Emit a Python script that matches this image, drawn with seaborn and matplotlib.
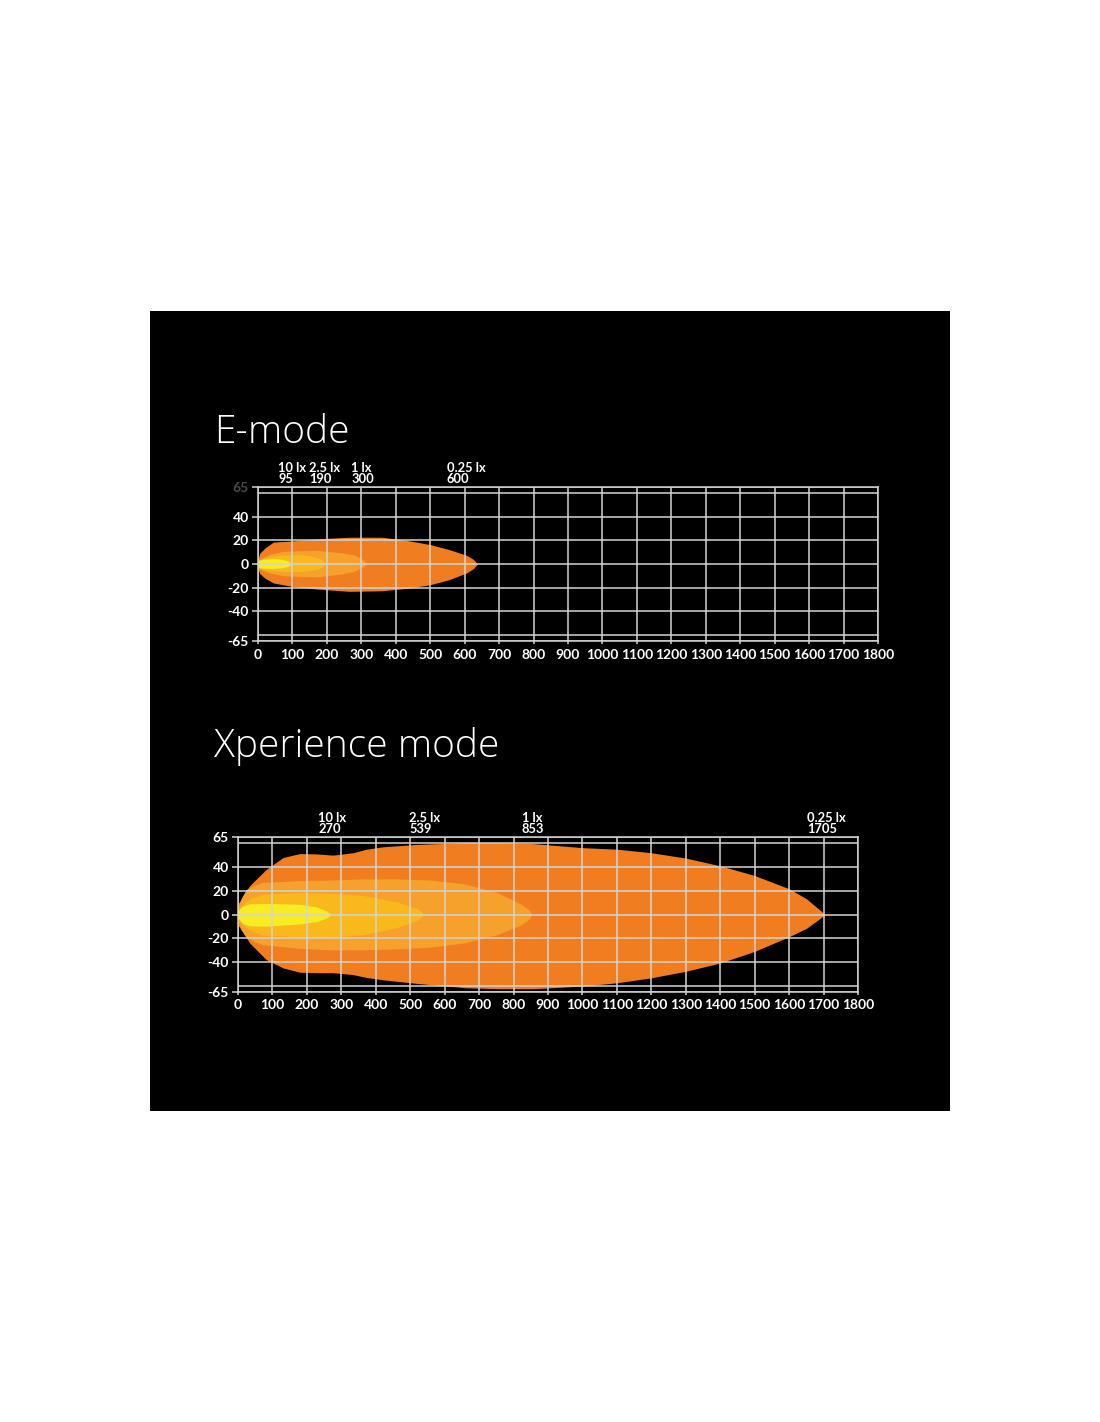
import matplotlib
matplotlib.use("Agg")
import matplotlib.pyplot as plt
import matplotlib.transforms as mtransforms
from matplotlib.patches import Rectangle
import seaborn as sns

# ---- data (distance in m, width in m) ----
x_ticks = list(range(0, 1900, 100))
y_ticks = [65, 40, 20, 0, -20, -40, -65]
grid_y = [65, 60, 40, 20, 0, -20, -40, -60, -65]

lux_names = ["10 lx", "2.5 lx", "1 lx", "0.25 lx"]

# E-mode
e_reach = [95, 190, 300, 600]

e_x_025 = [0, 5, 20, 45, 100, 170, 265, 360, 440, 500, 555, 605, 625, 637]
e_top_025 = [4, 9, 13.5, 18.5, 19.5, 21.2, 22.6, 22.6, 19.5, 16.4, 12.2, 7.4, 4, 0]
e_bot_025 = [-4, -8, -12, -16, -19, -21.1, -23.1, -22.6, -20.3, -17.5, -13.2, -7.6, -4, 0]

e_x_1 = [0, 10, 34, 73, 169, 247, 280, 295, 308, 315]
e_top_1 = [3, 5, 8.2, 10.7, 11.6, 9.3, 7.5, 5.4, 3, 0]
e_bot_1 = [-3, -5, -7.6, -9.9, -11, -8.2, -6, -3.9, -2, 0]

e_x_25 = [0, 20, 60, 120, 160, 185, 198]
e_top_25 = [3, 5, 7.5, 8, 6.5, 4, 0]
e_bot_25 = [-3, -5, -6, -6.5, -5, -3, 0]

e_x_10 = [0, 15, 40, 70, 88, 97]
e_top_10 = [3, 4, 4.5, 4, 2.5, 0]
e_bot_10 = [-3, -3.5, -3.8, -3.3, -2, 0]

# Xperience mode
x_reach = [270, 539, 853, 1705]

x_x_025 = [0, 5, 34, 82, 131, 179, 228, 276, 334, 373, 421, 518, 663, 760, 857,
           1000, 1100, 1200, 1300, 1400, 1500, 1600, 1650, 1690, 1705]
x_top_025 = [9, 11, 24.4, 38, 48, 51.3, 51, 50, 52, 55, 57, 59, 60.5, 60.5, 59.7,
             56.3, 55, 52, 47.5, 41, 32.8, 21.7, 13.3, 3.6, 0]
x_bot_025 = [-9, -11, -24, -38, -45, -48.6, -49, -49, -50.6, -53, -55, -58, -61.7, -62.5, -62.5,
             -60.3, -57.5, -53.3, -47.8, -40.8, -31, -18.7, -11.7, -3.3, 0]

x_x_1 = [0, 10, 24, 50, 73, 170, 267, 364, 461, 558, 655, 752, 820, 845, 854]
x_top_1 = [5, 14, 21, 25, 27, 28.5, 29, 30, 30, 29, 26, 18.5, 9, 4, 0]
x_bot_1 = [-5, -13, -19, -23, -25.5, -28.3, -29.7, -29.7, -29, -27.5, -24, -17, -9, -4, 0]

x_x_25 = [0, 15, 40, 73, 170, 267, 364, 461, 519, 532, 539]
x_top_25 = [3, 9, 14, 17, 18.5, 18, 16, 10.5, 5, 2.5, 0]
x_bot_25 = [-3, -9, -14, -17.5, -18.6, -19, -17, -11, -5, -2.5, 0]

x_x_10 = [0, 5, 14, 34, 82, 179, 228, 257, 266, 270]
x_top_10 = [2, 5, 7, 9, 9.3, 8.6, 6.4, 3, 1, 0]
x_bot_10 = [-2, -5, -7.5, -9.5, -9.8, -8, -6, -3, -1, 0]

beam_colors = ["#F07D1F", "#F6A12B", "#F9B91C", "#F8EC22"]

sns.set_style("dark")
plt.rcParams["font.family"] = ["Lato", "DejaVu Sans"]

fig = plt.figure(figsize=(11, 14.22), dpi=100)
fig.patch.set_facecolor("white")
fig.add_artist(Rectangle((150 / 1100, 1 - 1111 / 1422), 800 / 1100, 800 / 1422,
                         transform=fig.transFigure, facecolor="black",
                         edgecolor="none", zorder=-1))

grid_col = "#d4d4d4"


def draw_panel(ax, beams, reach, dim_top):
    ax.set_facecolor("black")
    for (bx, top, bot), col in zip(beams, beam_colors):
        ax.fill_between(bx, bot, top, color=col, linewidth=0, zorder=1)
    for gy in grid_y:
        ax.axhline(gy, color=grid_col, lw=1.1, zorder=5)
    for gx in x_ticks:
        ax.axvline(gx, color=grid_col, lw=1.1, zorder=5)
    ax.set_xlim(0, 1800)
    ax.set_ylim(-65, 65)
    ax.set_xticks(x_ticks)
    ax.set_yticks(y_ticks)
    ax.set_xticklabels([str(v) for v in x_ticks])
    ax.set_yticklabels([str(v) for v in y_ticks])
    ax.grid(False)
    for s in ax.spines.values():
        s.set_color(grid_col)
        s.set_linewidth(1.1)
    ax.tick_params(axis="y", left=True, length=4, width=1.1, color=grid_col,
                   pad=2.5, labelcolor="white", labelsize=10)
    ax.tick_params(axis="x", bottom=True, length=2, width=1.1, color=grid_col,
                   pad=3.5, labelcolor="white", labelsize=10)
    for lab in ax.get_xticklabels() + ax.get_yticklabels():
        lab.set_fontweight("bold")
    if dim_top:
        ax.get_yticklabels()[0].set_color("#4a4a4a")
    trans = mtransforms.blended_transform_factory(ax.transData, ax.transAxes)
    for name, val in zip(lux_names, reach):
        ax.annotate(f"{name}\n{val}", xy=(val, 1), xycoords=trans,
                    xytext=(1, 1.5), textcoords="offset points",
                    ha="center", va="bottom", multialignment="left",
                    color="white", fontsize=9.3, fontweight="bold",
                    linespacing=0.9, annotation_clip=False)


ax1 = fig.add_axes([258 / 1100, 1 - 641 / 1422, 620 / 1100, 154 / 1422])
draw_panel(ax1,
           [(e_x_025, e_top_025, e_bot_025), (e_x_1, e_top_1, e_bot_1),
            (e_x_25, e_top_25, e_bot_25), (e_x_10, e_top_10, e_bot_10)],
           e_reach, True)

ax2 = fig.add_axes([238 / 1100, 1 - 991.7 / 1422, 620 / 1100, 154.4 / 1422])
draw_panel(ax2,
           [(x_x_025, x_top_025, x_bot_025), (x_x_1, x_top_1, x_bot_1),
            (x_x_25, x_top_25, x_bot_25), (x_x_10, x_top_10, x_bot_10)],
           x_reach, False)

title_font = ["Open Sans", "DejaVu Sans"]
fig.text(214 / 1100, 1 - 442.7 / 1422, "E-mode", color="white", fontsize=28,
         family=title_font, fontweight="light", va="baseline", ha="left")
fig.text(214 / 1100, 1 - 757.5 / 1422, "Xperience mode", color="white", fontsize=28,
         family=title_font, fontweight="light", va="baseline", ha="left")

fig.savefig("out.png", dpi=100, facecolor="white")
